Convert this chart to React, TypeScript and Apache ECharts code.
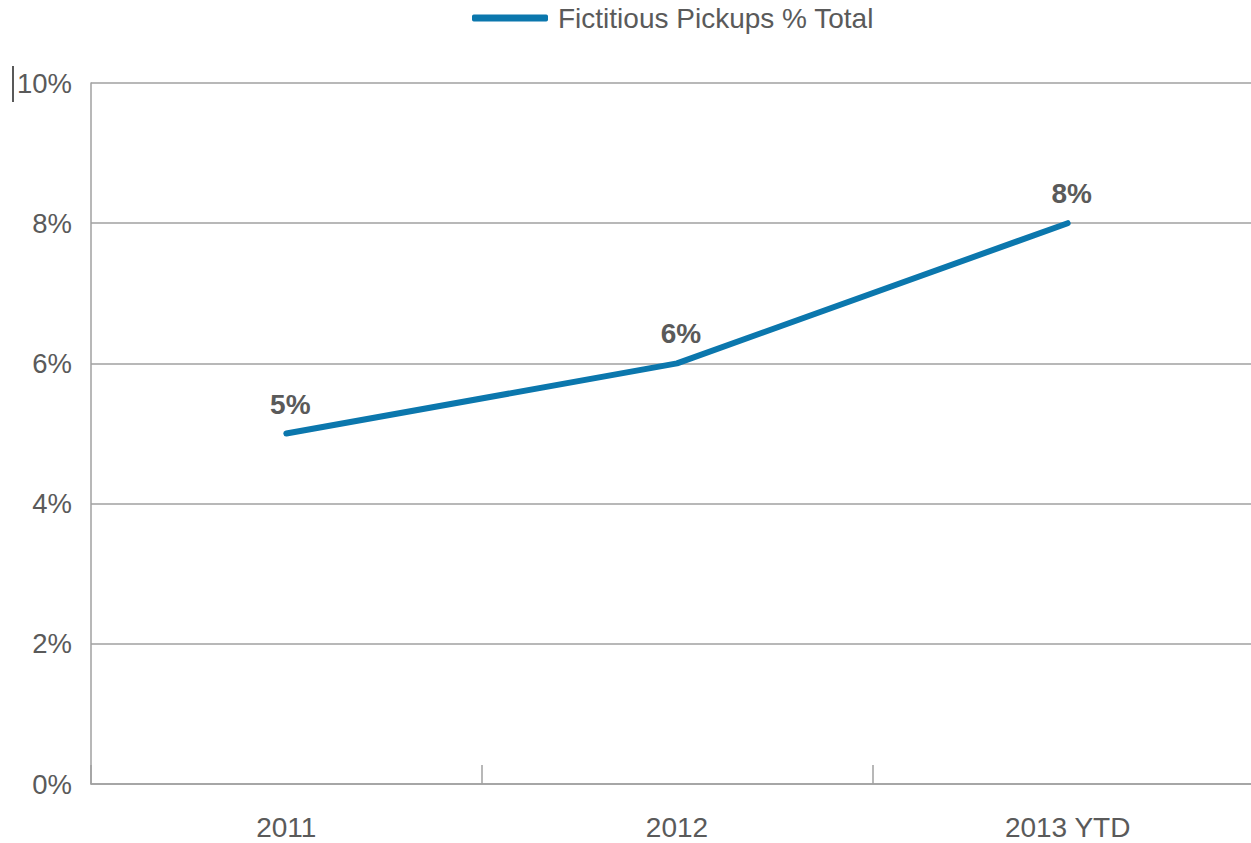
import React, { useEffect, useRef } from "react";
import * as echarts from "echarts";

const categories = ["2011", "2012", "2013 YTD"];
const pickupsPct = [5, 6, 8];
const seriesName = "Fictitious Pickups % Total";
const yMin = 0;
const yMax = 10;
const yInterval = 2;

export default function App() {
  const ref = useRef<HTMLDivElement>(null);
  useEffect(() => {
    if (!ref.current) return;
    const chart = echarts.init(ref.current, undefined, { renderer: "svg" });
    const textColor = "#5a5a5a";
    const lineColor = "#0b77ad";
    const font = "'Liberation Sans', Arial, sans-serif";
    chart.setOption({
      animation: false,
      backgroundColor: "#ffffff",
      textStyle: { fontFamily: font },
      legend: {
        data: [{ name: seriesName, icon: "roundRect", itemStyle: { color: lineColor, opacity: 1 } }],
        left: 472,
        top: 4,
        padding: 0,
        itemWidth: 76,
        itemHeight: 7,
        itemGap: 10,
        textStyle: { color: textColor, fontSize: 28, fontFamily: font, padding: [0, 0, 0, 5] },
      },
      grid: { left: 91, top: 83, width: 1172, height: 701, containLabel: false },
      xAxis: {
        type: "category",
        data: categories,
        boundaryGap: true,
        axisLine: { show: true, lineStyle: { color: "#a0a0a0", width: 1.5 } },
        axisTick: { show: true, inside: true, length: 19, lineStyle: { color: "#a0a0a0", width: 1.5 } },
        axisLabel: { color: textColor, fontSize: 28, margin: 29, fontFamily: font },
        splitLine: { show: false },
      },
      yAxis: {
        type: "value",
        min: yMin,
        max: yMax,
        interval: yInterval,
        axisLine: { show: true, lineStyle: { color: "#a0a0a0", width: 1.5 } },
        axisTick: { show: false },
        axisLabel: { color: textColor, fontSize: 27.5, margin: 19, formatter: "{value}%", fontFamily: font },
        splitLine: { show: true, lineStyle: { color: "#a0a0a0", width: 1.5 } },
      },
      graphic: [
        {
          type: "line",
          shape: { x1: 13, y1: 66, x2: 13, y2: 102 },
          style: { stroke: "#222222", lineWidth: 1.5 },
        },
      ],
      series: [
        {
          name: seriesName,
          type: "line",
          data: pickupsPct,
          symbol: "circle",
          symbolSize: 3,
          showSymbol: true,
          lineStyle: { color: lineColor, width: 6, cap: "round" },
          itemStyle: { color: lineColor },
          label: {
            show: true,
            position: "top",
            distance: 14,
            offset: [4, 0],
            formatter: "{c}%",
            color: textColor,
            fontSize: 28,
            fontWeight: "bold",
            fontFamily: font,
          },
        },
      ],
    });
    return () => chart.dispose();
  }, []);
  return (
    <div style={{ position: "fixed", left: 0, top: 0, width: 1251, height: 843, overflow: "hidden", background: "#fff" }}>
      <div ref={ref} style={{ position: "absolute", left: 0, top: 0, width: 1300, height: 843 }} />
    </div>
  );
}
